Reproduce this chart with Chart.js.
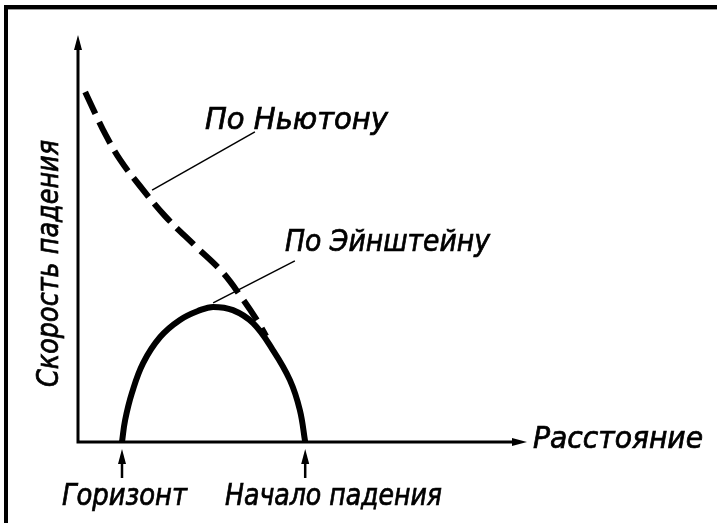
<!DOCTYPE html>
<html>
<head>
<meta charset="utf-8">
<script src="https://cdn.jsdelivr.net/npm/chart.js@4"></script>
<style>
  html, body { margin: 0; padding: 0; background: #fff; }
  canvas { display: block; }
</style>
</head>
<body>
<canvas id="fallChart" width="717" height="523"></canvas>
<script>
// ------------------------------
// Data (distance on x, falling speed on y, both 0..100)
// ------------------------------
const newtonX = [1.6, 3.8, 6.2, 9.4, 13.8, 19.4, 26.1, 32.1, 36.5, 40.1, 41.9];
const newtonY = [86.0, 80.8, 75.4, 69.3, 62.9, 55.5, 48.2, 41.8, 35.4, 29.5, 26.0];

const einsteinX = [9.8, 10.5, 12.0, 14.5, 18.3, 22.7, 27.2, 30.1, 34.5, 39.0, 43.4, 47.2, 49.4, 50.6];
const einsteinY = [0, 5.4, 12.0, 19.4, 25.8, 30.0, 32.4, 33.2, 32.4, 29.2, 22.6, 15.2, 7.9, 0];

// leader lines from the labels to the curves
const newtonLeaderX = [16.5, 39.4];
const newtonLeaderY = [61.9, 76.2];
const einsteinLeaderX = [30.1, 48.3];
const einsteinLeaderY = [34.2, 44.5];

const curveLabels = ['По Ньютону', 'По Эйнштейну'];
const axisLabels = ['Расстояние', 'Скорость падения'];
const pointLabels = ['Горизонт', 'Начало падения'];

const FONT = 'italic 30px "Liberation Sans Narrow", "DejaVu Sans Condensed", "Liberation Sans", sans-serif';

function pts(xs, ys) {
    return xs.map((x, i) => ({ x: x, y: ys[i] }));
}

// draw text squeezed/stretched to a given width (a thin stroke makes it look heavier)
function fitText(ctx, text, x, y, width) {
    ctx.save();
    ctx.font = FONT;
    const w = ctx.measureText(text).width;
    ctx.translate(x, y);
    ctx.scale(width / w, 1);
    ctx.fillText(text, 0, 0);
    ctx.lineWidth = 0.7;
    ctx.strokeText(text, 0, 0);
    ctx.restore();
}

function arrowHead(ctx, x, y, dir) {
    // dir: 'up' or 'right'
    ctx.beginPath();
    if (dir === 'up') {
        ctx.moveTo(x, y);
        ctx.lineTo(x - 4, y + 15);
        ctx.lineTo(x + 4, y + 15);
    } else {
        ctx.moveTo(x, y);
        ctx.lineTo(x - 15, y - 4);
        ctx.lineTo(x - 15, y + 4);
    }
    ctx.closePath();
    ctx.fill();
}

// ------------------------------
// Frame, axes and texts
// ------------------------------
const decor = {
    id: 'decor',
    beforeDraw(chart) {
        const ctx = chart.ctx;
        ctx.save();
        ctx.fillStyle = '#000';
        ctx.fillRect(4, 5, 713, 4);   // top frame
        ctx.fillRect(4, 5, 4, 518);   // left frame
        ctx.fillStyle = '#999';
        ctx.fillRect(8, 9, 709, 1);
        ctx.restore();
    },
    afterDraw(chart) {
        const ctx = chart.ctx;
        const a = chart.chartArea;
        const xs = chart.scales.x;
        ctx.save();
        ctx.strokeStyle = '#000';
        ctx.fillStyle = '#000';
        ctx.lineWidth = 3;

        // axes
        ctx.beginPath();
        ctx.moveTo(a.left, a.top + 8);
        ctx.lineTo(a.left, a.bottom);
        ctx.lineTo(a.right - 8, a.bottom);
        ctx.stroke();
        arrowHead(ctx, a.left, a.top, 'up');
        arrowHead(ctx, a.right, a.bottom, 'right');

        // small arrows under the ends of the arc
        ctx.lineWidth = 2.5;
        [einsteinX[0], einsteinX[einsteinX.length - 1]].forEach(v => {
            const px = xs.getPixelForValue(v);
            ctx.beginPath();
            ctx.moveTo(px, a.bottom + 36);
            ctx.lineTo(px, a.bottom + 14);
            ctx.stroke();
            arrowHead(ctx, px, a.bottom + 7, 'up');
        });

        // texts
        ctx.textBaseline = 'alphabetic';
        fitText(ctx, curveLabels[0], 205, 129, 183);
        fitText(ctx, curveLabels[1], 285, 251, 205);
        fitText(ctx, axisLabels[0], 533, 448, 170);
        fitText(ctx, pointLabels[0], 62, 505, 125);
        fitText(ctx, pointLabels[1], 225, 505, 217);

        ctx.save();
        ctx.translate(58, 387);
        ctx.rotate(-Math.PI / 2);
        fitText(ctx, axisLabels[1], 0, 0, 247);
        ctx.restore();

        ctx.restore();
    }
};

// ------------------------------
// Chart
// ------------------------------
const c = document.getElementById('fallChart').getContext('2d');

new Chart(c, {
    type: 'scatter',
    data: {
        datasets: [
            {
                label: 'По Ньютону',
                data: pts(newtonX, newtonY),
                showLine: true,
                borderColor: '#000',
                borderWidth: 6,
                borderDash: [24, 9],
                borderCapStyle: 'butt',
                tension: 0.4,
                pointRadius: 0
            },
            {
                label: 'По Эйнштейну',
                data: pts(einsteinX, einsteinY),
                showLine: true,
                borderColor: '#000',
                borderWidth: 6,
                tension: 0.4,
                pointRadius: 0
            },
            {
                label: 'leader1',
                data: pts(newtonLeaderX, newtonLeaderY),
                showLine: true,
                borderColor: '#000',
                borderWidth: 1.5,
                pointRadius: 0
            },
            {
                label: 'leader2',
                data: pts(einsteinLeaderX, einsteinLeaderY),
                showLine: true,
                borderColor: '#000',
                borderWidth: 1.5,
                pointRadius: 0
            }
        ]
    },
    options: {
        responsive: false,
        animation: false,
        clip: false,
        layout: { padding: { left: 78, right: 190, top: 35, bottom: 81 } },
        plugins: {
            legend: { display: false },
            tooltip: { enabled: false }
        },
        scales: {
            x: { type: 'linear', min: 0, max: 100, display: false },
            y: { type: 'linear', min: 0, max: 100, display: false }
        }
    },
    plugins: [decor]
});
</script>
</body>
</html>
